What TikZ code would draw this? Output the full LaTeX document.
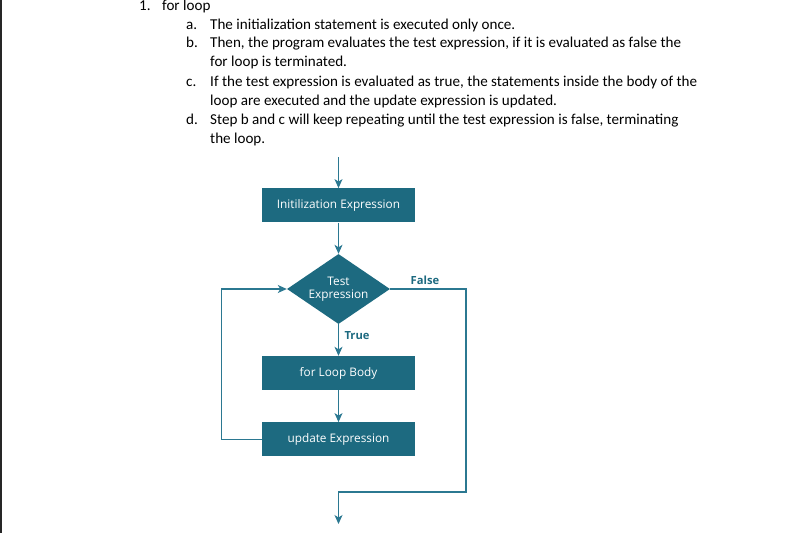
\documentclass[tikz,border=0pt]{standalone}
\usepackage{fontspec}
\setmainfont{Carlito}
\newfontfamily\boxfont{Open Sans}
\usetikzlibrary{shapes.geometric,arrows.meta}
\definecolor{teal}{HTML}{1D6A80}
\definecolor{tline}{HTML}{2B7891}
\tikzset{
  flowbox/.style={rectangle,fill=teal,draw=none,minimum width=153pt,minimum height=34pt,inner sep=0pt,text=white,font=\boxfont\fontsize{11.8}{13}\selectfont},
  decbox/.style={diamond,fill=teal,draw=none,minimum width=103pt,minimum height=70pt,inner sep=0pt,text=white,align=center,font=\boxfont\fontsize{11.8}{13.5}\selectfont,aspect=1.47},
  conn/.style={draw=tline,line width=1.1pt},
  arr/.style={conn,-{Stealth[length=9pt,width=8pt,inset=2.5pt]}},
  lbl/.style={text=teal,font=\boxfont\bfseries\fontsize{11.2}{13}\selectfont,inner sep=0pt},
  txt/.style={anchor=base west,inner sep=0pt,font=\fontsize{15.1}{17}\selectfont,text=black}
}
\begin{document}
\begin{tikzpicture}[x=1pt,y=-1pt]
\useasboundingbox[fill=white] (0,0) rectangle (793,533);
\fill[black!85] (0,0) rectangle (1.8,533);
% text
\node[txt] (n1) at (139,10.5) {1.};
\node[txt] (t1) at (162,10.5) {for loop};
\node[txt] (la) at (186,29) {a.};
\node[txt] (ta) at (210,29) {The initialization statement is executed only once.};
\node[txt] (lb) at (186,47.5) {b.};
\node[txt] (tb) at (210,47.5) {Then, the program evaluates the test expression, if it is evaluated as false the};
\node[txt] (tb2) at (210,66.5) {for loop is terminated.};
\node[txt] (lc) at (186,86) {c.};
\node[txt] (tc) at (210,86) {If the test expression is evaluated as true, the statements inside the body of the};
\node[txt] (tc2) at (210,105) {loop are executed and the update expression is updated.};
\node[txt] (ld) at (186,124.5) {d.};
\node[txt] (td) at (210,124.5) {Step b and c will keep repeating until the test expression is false, terminating};
\node[txt] (td2) at (210,143.5) {the loop.};
% flowchart
\coordinate (start) at (338.5,157);
\node[flowbox] (init) at (338.5,205.3) {Initilization Expression};
\node[decbox] (test) at (338.5,289) {Test\\Expression};
\node[flowbox] (body) at (338.5,373) {for Loop Body};
\node[flowbox] (upd) at (338.5,439.3) {update Expression};
\coordinate (lft) at (221.7,0);
\coordinate (rgt) at (466,0);
\coordinate (bot) at (0,492);
\coordinate (endp) at (338.5,524);
\draw[arr] (start) -- (init.north);
\draw[arr] (init.south) -- (test.north);
\draw[arr] (test.south) -- (body.north);
\draw[arr] (body.south) -- (upd.north);
\draw[arr] (upd.west) -| (lft |- test) -- (test.west);
\draw[conn] (test.east) -| (rgt |- bot) -| ([yshift=-1pt]endp |- bot);
\draw[arr] (endp |- bot) -- (endp);
\node[lbl] (lf) at (425,280) {False};
\node[lbl] (lt) at (357,336) {True};
\end{tikzpicture}
\end{document}
